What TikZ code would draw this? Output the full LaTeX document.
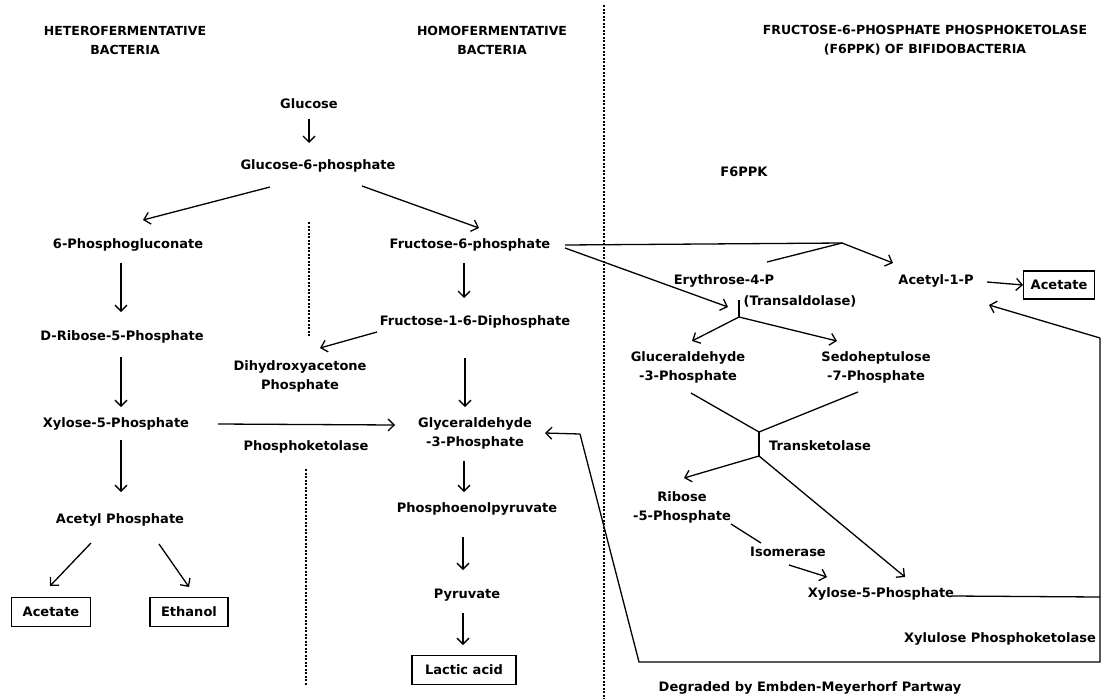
\documentclass[tikz,border=0pt]{standalone}
\usepackage{fontspec}
\setmainfont{DejaVu Sans}
\usetikzlibrary{arrows.meta, calc}

\begin{document}
\begin{tikzpicture}[x=1pt, y=-1pt, line width=1.3pt,
    txt/.style={font=\bfseries\fontsize{13}{19}\selectfont, inner sep=2pt, align=center},
    head/.style={font=\bfseries\fontsize{12.5}{19}\selectfont, inner sep=2pt, align=center},
    box/.style={txt, draw, inner xsep=11pt, minimum height=29pt},
    arr/.style={-{Straight Barb[length=6pt,width=12pt]}},
    dotline/.style={line width=2pt, dash pattern=on 2pt off 1.5pt}]

  \fill[white] (0,0) rectangle (1107,699);
  \useasboundingbox (0,0) rectangle (1107,699);

  % headings
  \node[head] (hetero) at (125,40) {HETEROFERMENTATIVE\\BACTERIA};
  \node[head] (homo) at (492,40) {HOMOFERMENTATIVE\\BACTERIA};
  \node[head] (bifido) at (925,40) {FRUCTOSE-6-PHOSPHATE PHOSPHOKETOLASE\\(F6PPK) OF BIFIDOBACTERIA};

  % dotted separators
  \draw[dotline] (604,5) -- (604,699);
  \draw[dotline] (309,222) -- (309,337);
  \draw[dotline] (306,469) -- (306,686);

  % left and middle pathways
  \node[txt] (glc) at (309,104) {Glucose};
  \node[txt] (g6p) at (318,166) {Glucose-6-phosphate};
  \node[txt] (pg) at (128,245) {6-Phosphogluconate};
  \node[txt] (rib5p) at (122,337) {D-Ribose-5-Phosphate};
  \node[txt] (xyl5p) at (116,424) {Xylose-5-Phosphate};
  \node[txt] (acp) at (120,520) {Acetyl Phosphate};
  \node[box] (ace1) at (51,612) {Acetate};
  \node[box] (eth) at (189,612) {Ethanol};
  \node[txt] (f6p) at (470,245) {Fructose-6-phosphate};
  \node[txt] (fdp) at (475,322) {Fructose-1-6-Diphosphate};
  \node[txt] (dhap) at (300,376) {Dihydroxyacetone\\Phosphate};
  \node[txt] (gap) at (475,433) {Glyceraldehyde\\-3-Phosphate};
  \node[txt] (pk) at (306,447) {Phosphoketolase};
  \node[txt] (pep) at (477,509) {Phosphoenolpyruvate};
  \node[txt] (pyr) at (467,595) {Pyruvate};
  \node[box, inner xsep=13pt] (lac) at (464,670) {Lactic acid};

  % bifidobacteria shunt
  \node[txt] (f6ppk) at (744,172) {F6PPK};
  \node[txt] (e4p) at (724,281) {Erythrose-4-P};
  \node[txt] (tal) at (800,301) {(Transaldolase)};
  \node[txt] (acp1) at (936,281) {Acetyl-1-P};
  \node[box, minimum height=28pt, inner xsep=7pt] (ace2) at (1059,285) {Acetate};
  \node[txt] (gap2) at (688,367) {Gluceraldehyde\\-3-Phosphate};
  \node[txt] (s7p) at (876,367) {Sedoheptulose\\-7-Phosphate};
  \node[txt] (tkt) at (820,446) {Transketolase};
  \node[txt] (r5p) at (682,507) {Ribose\\-5-Phosphate};
  \node[txt] (iso) at (788,552) {Isomerase};
  \node[txt] (xu5p) at (881,594) {Xylose-5-Phosphate};
  \node[txt] (xpk) at (1000,639) {Xylulose Phosphoketolase};
  \node[txt] (emp) at (810,688) {Degraded by Embden-Meyerhorf Partway};

  \coordinate (apex) at (842,243);
  \coordinate (tal0) at (739,300);
  \coordinate (tal1) at (739,317);
  \coordinate (tk0) at (759,432);
  \coordinate (tk1) at (759,456);
  \coordinate (rt) at (1100,597);
  \coordinate (c1) at (1100,338);
  \coordinate (c2) at (1100,662);
  \coordinate (c3) at (639,662);
  \coordinate (c4) at (580,434);

  \path[arr]
    ($(glc)+(0,15)$) edge ($(g6p)+(-9,-23)$)
    ($(g6p)+(-48,21)$) edge ($(pg)+(15,-25)$)
    ($(g6p)+(44,20)$) edge ($(f6p)+(9,-17)$)
    ($(pg)+(-7,18)$) edge ($(rib5p)+(-1,-25)$)
    ($(rib5p)+(-1,20)$) edge ($(xyl5p)+(5,-17)$)
    ($(xyl5p)+(5,16)$) edge ($(acp)+(1,-28)$)
    ($(acp)+(-29,23)$) edge ($(ace1)+(-1,-26)$)
    ($(acp)+(39,24)$) edge ($(eth)+(0,-25)$)
    ($(xyl5p)+(102,0)$) edge ($(gap)+(-80,-8)$)
    ($(f6p)+(-6,18)$) edge ($(fdp)+(-11,-24)$)
    ($(fdp)+(-98,10)$) edge ($(dhap)+(20,-28)$)
    ($(fdp)+(-10,36)$) edge ($(gap)+(-10,-26)$)
    ($(gap)+(-11,28)$) edge ($(pep)+(-13,-17)$)
    ($(pep)+(-14,28)$) edge ($(pyr)+(-4,-25)$)
    ($(pyr)+(-4,18)$) edge ($(lac)+(-1,-25)$);

  \draw ($(f6p)+(95,0)$) -- (apex);
  \draw (apex) -- ($(e4p)+(43,-19)$);
  \draw (tal0) -- (tal1);
  \draw ($(gap2)+(3,26)$) -- (tk0) -- ($(s7p)+(-18,25)$);
  \draw (tk0) -- (tk1);
  \draw ($(r5p)+(49,17)$) -- ($(iso)+(-27,-9)$);
  \draw ($(xu5p)+(72,2)$) -- (rt);
  \draw (c1) -- (c2) -- (c3) -- (c4);

  \path[arr]
    (apex) edge ($(acp1)+(-43,-18)$)
    ($(f6p)+(95,3)$) edge ($(e4p)+(4,26)$)
    (tal1) edge ($(gap2)+(4,-26)$)
    (tal1) edge ($(s7p)+(-39,-26)$)
    (tk1) edge ($(r5p)+(2,-29)$)
    (tk1) edge ($(xu5p)+(24,-17)$)
    ($(iso)+(1,13)$) edge ($(xu5p)+(-54,-17)$)
    ($(acp1)+(51,1)$) edge (ace2.west)
    (c1) edge ($(acp1)+(53,24)$)
    (c4) edge ($(gap)+(70,0)$);

\end{tikzpicture}
\end{document}
